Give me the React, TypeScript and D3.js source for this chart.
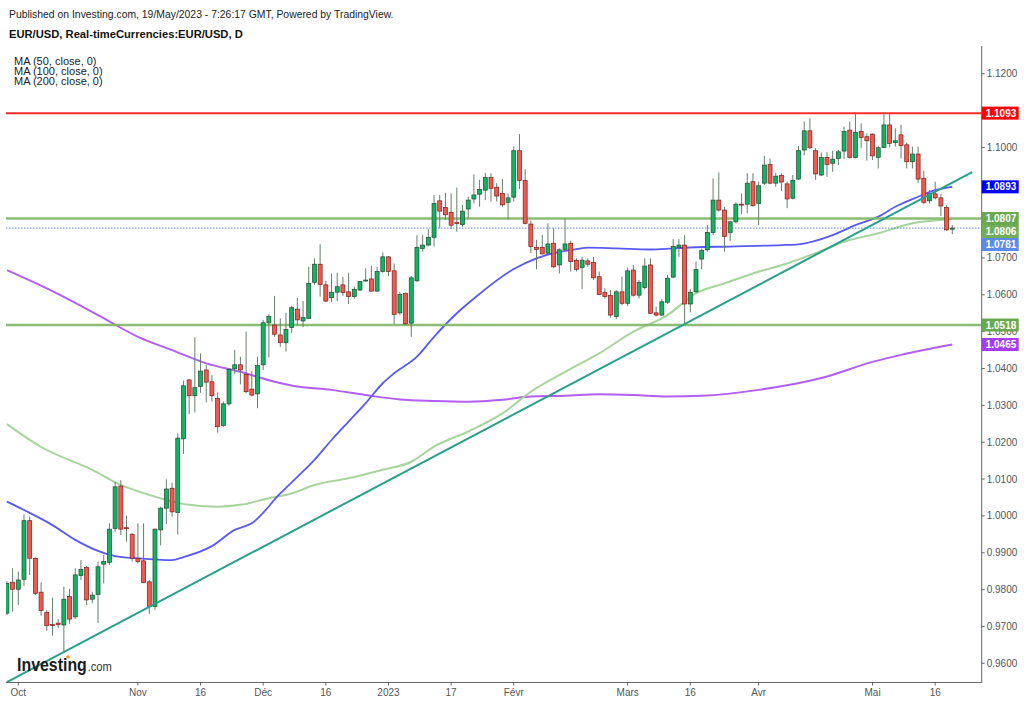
import React from "react";
import * as d3 from "d3";

// ---------- DATA ----------
const FIRST_DAY = new Date(2022, 8, 29);
const END_DAY = new Date(2023, 4, 20);

const OPEN = [
  0.9736, 0.9820, 0.9801, 0.9828, 0.9987, 0.9885, 0.9793, 0.9738, 0.9705, 0.9709,
  0.9704, 0.9781, 0.9726, 0.9838, 0.9860, 0.9774, 0.9787, 0.9869, 0.9874, 0.9966,
  1.0081, 0.9968, 0.9950, 0.9885, 0.9878, 0.9821, 0.9754, 0.9962, 1.0021, 1.0075,
  1.0009, 1.0209, 1.0369, 1.0326, 1.0351, 1.0396, 1.0364, 1.0319, 1.0245, 1.0304,
  1.0399, 1.0410, 1.0384, 1.0344, 1.0331, 1.0410, 1.0524, 1.0518, 1.0491, 1.0470,
  1.0511, 1.0561, 1.0529, 1.0536, 1.0634, 1.0683, 1.0627, 1.0592, 1.0607, 1.0627,
  1.0608, 1.0595, 1.0613, 1.0638, 1.0643, 1.0610, 1.0663, 1.0703, 1.0665, 1.0551,
  1.0604, 1.0523, 1.0638, 1.0726, 1.0735, 1.0756, 1.0855, 1.0837, 1.0823, 1.0796,
  1.0791, 1.0833, 1.0860, 1.0873, 1.0884, 1.0918, 1.0892, 1.0875, 1.0851, 1.0865,
  1.0991, 1.0910, 1.0792, 1.0729, 1.0729, 1.0713, 1.0740, 1.0681, 1.0723, 1.0740,
  1.0693, 1.0674, 1.0692, 1.0688, 1.0649, 1.0606, 1.0598, 1.0541, 1.0608, 1.0577,
  1.0667, 1.0599, 1.0620, 1.0681, 1.0551, 1.0545, 1.0580, 1.0648, 1.0729, 1.0735,
  1.0575, 1.0608, 1.0697, 1.0722, 1.0769, 1.0857, 1.0830, 1.0769, 1.0798, 1.0846,
  1.0846, 1.0907, 1.0848, 1.0903, 1.0954, 1.0903, 1.0924, 1.0901, 1.0862, 1.0914,
  1.0993, 1.1045, 1.0991, 1.0925, 1.0973, 1.0957, 1.0970, 1.0990, 1.1047, 1.0973,
  1.1043, 1.1029, 1.1036, 1.0973, 1.1000, 1.1061, 1.1013, 1.1034, 1.1007, 1.0961,
  1.0982, 1.0916, 1.0855, 1.0874, 1.0863, 1.0837, 1.0778,
];

const HIGH = [
  0.9823, 0.9858, 0.9849, 1.0004, 0.9998, 0.9887, 0.9820, 0.9745, 0.9778, 0.9720,
  0.9808, 0.9802, 0.9858, 0.9880, 0.9864, 0.9794, 0.9876, 0.9894, 0.9980, 1.0093,
  1.0097, 1.0001, 0.9954, 0.9980, 0.9980, 0.9826, 0.9966, 1.0025, 1.0099, 1.0090,
  1.0224, 1.0367, 1.0371, 1.0485, 1.0441, 1.0410, 1.0382, 1.0335, 1.0310, 1.0401,
  1.0450, 1.0432, 1.0500, 1.0393, 1.0432, 1.0532, 1.0548, 1.0597, 1.0536, 1.0551,
  1.0570, 1.0592, 1.0583, 1.0676, 1.0699, 1.0737, 1.0638, 1.0658, 1.0660, 1.0649,
  1.0660, 1.0622, 1.0637, 1.0672, 1.0679, 1.0676, 1.0715, 1.0705, 1.0685, 1.0608,
  1.0606, 1.0651, 1.0762, 1.0762, 1.0778, 1.0871, 1.0871, 1.0877, 1.0875, 1.0891,
  1.0844, 1.0866, 1.0927, 1.0912, 1.0931, 1.0930, 1.0903, 1.0914, 1.0875, 1.1002,
  1.1036, 1.0941, 1.0801, 1.0749, 1.0762, 1.0794, 1.0780, 1.0726, 1.0808, 1.0747,
  1.0699, 1.0703, 1.0699, 1.0703, 1.0663, 1.0618, 1.0613, 1.0613, 1.0649, 1.0674,
  1.0681, 1.0640, 1.0699, 1.0699, 1.0568, 1.0588, 1.0654, 1.0751, 1.0751, 1.0762,
  1.0616, 1.0690, 1.0726, 1.0789, 1.0916, 1.0932, 1.0839, 1.0801, 1.0851, 1.0875,
  1.0930, 1.0930, 1.0907, 1.0977, 1.0970, 1.0930, 1.0930, 1.0907, 1.0925, 1.1004,
  1.1070, 1.1079, 1.0998, 1.0986, 1.0987, 1.0991, 1.0993, 1.1056, 1.1070, 1.1095,
  1.1065, 1.1038, 1.1038, 1.1004, 1.1095, 1.1093, 1.1052, 1.1061, 1.1013, 1.1002,
  1.1002, 1.0937, 1.0884, 1.0907, 1.0874, 1.0844, 1.0789,
];

const LOW = [
  0.9731, 0.9740, 0.9758, 0.9810, 0.9840, 0.9785, 0.9729, 0.9688, 0.9675, 0.9696,
  0.9632, 0.9707, 0.9720, 0.9826, 0.9758, 0.9763, 0.9709, 0.9817, 0.9867, 0.9957,
  0.9948, 0.9930, 0.9876, 0.9871, 0.9817, 0.9734, 0.9745, 0.9920, 0.9978, 0.9998,
  0.9950, 1.0168, 1.0276, 1.0281, 1.0334, 1.0308, 1.0310, 1.0226, 1.0242, 1.0299,
  1.0384, 1.0357, 1.0333, 1.0324, 1.0292, 1.0396, 1.0430, 1.0486, 1.0459, 1.0446,
  1.0496, 1.0518, 1.0512, 1.0534, 1.0627, 1.0595, 1.0580, 1.0580, 1.0583, 1.0597,
  1.0575, 1.0590, 1.0610, 1.0636, 1.0608, 1.0608, 1.0660, 1.0651, 1.0520, 1.0545,
  1.0518, 1.0486, 1.0635, 1.0717, 1.0731, 1.0731, 1.0780, 1.0803, 1.0778, 1.0771,
  1.0785, 1.0808, 1.0848, 1.0839, 1.0857, 1.0853, 1.0853, 1.0839, 1.0805, 1.0853,
  1.0887, 1.0791, 1.0713, 1.0669, 1.0710, 1.0708, 1.0672, 1.0658, 1.0719, 1.0663,
  1.0663, 1.0616, 1.0676, 1.0640, 1.0599, 1.0590, 1.0538, 1.0534, 1.0572, 1.0570,
  1.0595, 1.0590, 1.0615, 1.0548, 1.0541, 1.0543, 1.0575, 1.0645, 1.0703, 1.0520,
  1.0553, 1.0606, 1.0669, 1.0717, 1.0762, 1.0826, 1.0717, 1.0746, 1.0794, 1.0819,
  1.0821, 1.0839, 1.0789, 1.0898, 1.0900, 1.0893, 1.0882, 1.0835, 1.0859, 1.0912,
  1.0979, 1.0996, 1.0912, 1.0922, 1.0920, 1.0934, 1.0952, 1.0968, 1.0970, 1.0970,
  1.0998, 1.0964, 1.0966, 1.0943, 1.0998, 1.1000, 1.1002, 1.0970, 1.0943, 1.0943,
  1.0903, 1.0846, 1.0848, 1.0859, 1.0814, 1.0774, 1.0765,
];

const CLOSE = [
  0.9817, 0.9801, 0.9826, 0.9987, 0.9885, 0.9790, 0.9743, 0.9702, 0.9703, 0.9705,
  0.9774, 0.9720, 0.9840, 0.9855, 0.9772, 0.9785, 0.9862, 0.9876, 0.9964, 1.0079,
  0.9964, 0.9965, 0.9885, 0.9876, 0.9819, 0.9754, 0.9964, 1.0021, 1.0073, 1.0011,
  1.0211, 1.0353, 1.0326, 1.0348, 1.0393, 1.0363, 1.0326, 1.0242, 1.0304, 1.0398,
  1.0410, 1.0396, 1.0337, 1.0328, 1.0408, 1.0524, 1.0541, 1.0493, 1.0470, 1.0506,
  1.0565, 1.0532, 1.0538, 1.0631, 1.0683, 1.0628, 1.0583, 1.0607, 1.0622, 1.0606,
  1.0595, 1.0615, 1.0636, 1.0640, 1.0610, 1.0663, 1.0703, 1.0663, 1.0547, 1.0601,
  1.0521, 1.0646, 1.0729, 1.0735, 1.0756, 1.0848, 1.0827, 1.0817, 1.0789, 1.0794,
  1.0827, 1.0857, 1.0871, 1.0886, 1.0918, 1.0889, 1.0868, 1.0844, 1.0863, 1.0991,
  1.0910, 1.0794, 1.0731, 1.0723, 1.0711, 1.0738, 1.0676, 1.0722, 1.0738, 1.0690,
  1.0669, 1.0694, 1.0683, 1.0646, 1.0601, 1.0595, 1.0545, 1.0608, 1.0577, 1.0665,
  1.0599, 1.0633, 1.0678, 1.0550, 1.0545, 1.0581, 1.0645, 1.0731, 1.0735, 1.0575,
  1.0607, 1.0669, 1.0720, 1.0769, 1.0857, 1.0830, 1.0758, 1.0798, 1.0846, 1.0844,
  1.0903, 1.0842, 1.0896, 1.0952, 1.0903, 1.0922, 1.0906, 1.0860, 1.0910, 1.0991,
  1.1045, 1.0999, 1.0928, 1.0973, 1.0954, 1.0968, 1.0988, 1.1043, 1.0973, 1.1041,
  1.1027, 1.1018, 1.0977, 1.0999, 1.1061, 1.1011, 1.1018, 1.1005, 1.0961, 1.0982,
  1.0914, 1.0851, 1.0874, 1.0863, 1.0841, 1.0776, 1.0781,
];

// moving averages: [bar number, value]
const MA50: [number, number][] = [
  [0, 1.0039], [3, 1.0016], [8, 0.9975], [12, 0.9935], [16, 0.9905], [19, 0.9891],
  [23, 0.9885], [29, 0.988], [31, 0.9888], [36, 0.9918], [40, 0.9962], [43, 0.998],
  [48, 1.0061], [51, 1.0106], [54, 1.0152], [57, 1.0206], [60, 1.0256], [63, 1.0306],
  [66, 1.036], [68, 1.0387], [72, 1.0432], [75, 1.0486], [79, 1.055], [82, 1.059],
  [89, 1.067], [93, 1.0699], [96, 1.0713], [100, 1.0724], [102, 1.0728],
  [107, 1.0726], [113, 1.0723], [117, 1.0726], [121, 1.0729], [127, 1.0731],
  [136, 1.0735], [139, 1.0737], [145, 1.0762], [149, 1.0789], [153, 1.0812],
  [156, 1.0839], [160, 1.0866], [163, 1.0884], [166, 1.0893],
];
const MA100: [number, number][] = [
  [0, 1.0249], [6, 1.0187], [15, 1.0125], [20, 1.0084], [25, 1.0057], [32, 1.003],
  [37, 1.0025], [41, 1.003], [46, 1.0048], [50, 1.0061], [54, 1.0084], [60, 1.0102],
  [66, 1.0125], [71, 1.0147], [75, 1.0188], [81, 1.0229], [87, 1.0278], [92, 1.0337],
  [98, 1.0391], [104, 1.0441], [110, 1.05], [116, 1.0545], [121, 1.0604], [126, 1.0631],
  [131, 1.0658], [137, 1.0685], [142, 1.0713], [147, 1.0744], [153, 1.0767],
  [159, 1.0794], [166, 1.0806],
];
const MA200: [number, number][] = [
  [0, 1.0667], [8, 1.061], [16, 1.0545], [23, 1.0486], [29, 1.045], [35, 1.0414],
  [41, 1.0391], [47, 1.0364], [51, 1.0351], [57, 1.0342], [63, 1.0328], [69, 1.0316],
  [75, 1.0312], [81, 1.031], [87, 1.0315], [92, 1.0324], [98, 1.0326], [104, 1.033],
  [110, 1.0328], [116, 1.0324], [122, 1.0326], [132, 1.0342], [143, 1.0374],
  [152, 1.0418], [157, 1.0437], [166, 1.0465],
];
const TREND: [number, number][] = [[0, 0.9549], [169.5, 1.0933]];

const RESIST = 1.1093;
const LEVEL_HIGH = 1.0807;
const LEVEL_LOW = 1.0518;
const LAST_PRICE = 1.0781;

const Y_TICKS = [0.96, 0.97, 0.98, 0.99, 1.0, 1.01, 1.02, 1.03, 1.04, 1.05, 1.06, 1.07, 1.08, 1.09, 1.1, 1.11, 1.12];
const X_TICK_DATES = ["2022-10-03", "2022-11-01", "2022-11-16", "2022-12-01", "2022-12-16", "2023-01-02", "2023-01-17", "2023-02-01", "2023-03-01", "2023-03-16", "2023-04-03", "2023-05-01", "2023-05-16"];
const X_TICK_LABELS = ["Oct", "Nov", "16", "Déc", "16", "2023", "17", "Févr", "Mars", "16", "Avr", "Mai", "16"];

const LEGEND = ["MA (50, close, 0)", "MA (100, close, 0)", "MA (200, close, 0)"];

// ---------- STYLE ----------
const W = 1024, H = 703;
const PL = 6, PR = 981.7, PT = 46, PB = 682.5;
const FONT = "'Liberation Sans', Arial, Helvetica, sans-serif";
const UP = "#12b262", UP_LINE = "#1d4d31";
const DN = "#f0594f", DN_LINE = "#7a1f1a";
const WICK = "#667f6c";
const C_MA50 = "#5959f6", C_MA100 = "#a7d49c", C_MA200 = "#b35ef7";
const C_TREND = "#28a08a", C_RED = "#ff2a2a", C_GREEN = "#7fb763";

export default function App() {
  const days = d3.timeDay.range(FIRST_DAY, END_DAY).filter((d) => d.getDay() !== 0 && d.getDay() !== 6);
  const fmt = d3.timeFormat("%Y-%m-%d");
  const dayIndex = new Map(days.map((d, i) => [fmt(d), i]));

  const x = d3.scaleLinear().domain([2, 152]).range([18.3, 872.55]);
  const y = d3.scaleLinear().domain([0.96, 1.12]).range([663.3, 73.7]);

  const bodyW = 4;
  const candles = OPEN.map((o, i) => ({ i, o, h: HIGH[i], l: LOW[i], c: CLOSE[i] }));

  const line = d3.line<[number, number]>().x((d) => x(d[0])).y((d) => y(d[1])).curve(d3.curveMonotoneX);
  const straight = d3.line<[number, number]>().x((d) => x(d[0])).y((d) => y(d[1]));

  // right-axis labels with collision stacking
  const labels = [
    { v: RESIST, bg: "#ff0000" },
    { v: MA50[MA50.length - 1][1], bg: "#0000ff" },
    { v: LEVEL_HIGH, bg: "#6aa84f" },
    { v: MA100[MA100.length - 1][1], bg: "#72ad58" },
    { v: LAST_PRICE, bg: "#5b8be6" },
    { v: LEVEL_LOW, bg: "#6aa84f" },
    { v: MA200[MA200.length - 1][1], bg: "#a43cf3" },
  ].sort((a, b) => b.v - a.v);
  const LH = 13;
  let prev = -Infinity;
  const placed = labels.map((lb) => {
    let cy = y(lb.v);
    if (cy < prev + LH) cy = prev + LH;
    prev = cy;
    return { ...lb, cy };
  });
  // tick labels fully covered by a price label are not drawn
  const visibleTicks = Y_TICKS.filter((t) => !placed.some((p) => Math.abs(p.cy - y(t)) < LH / 2));

  return (
    <svg width={W} height={H} viewBox={`0 0 ${W} ${H}`} style={{ position: "absolute", left: 0, top: 0, background: "#fff" }} fontFamily={FONT}>
      <defs>
        <clipPath id="plot">
          <rect x={PL} y={PT} width={PR - PL} height={PB - PT} />
        </clipPath>
      </defs>
      <rect x={0} y={0} width={W} height={H} fill="#fff" />

      <g clipPath="url(#plot)">
        {/* moving averages */}
        <path d={line(MA200) || ""} fill="none" stroke={C_MA200} strokeWidth={2} />
        <path d={line(MA100) || ""} fill="none" stroke={C_MA100} strokeWidth={2} />
        <path d={line(MA50) || ""} fill="none" stroke={C_MA50} strokeWidth={1.8} />
        {/* horizontal levels */}
        <line x1={PL} x2={PR} y1={y(RESIST)} y2={y(RESIST)} stroke={C_RED} strokeWidth={2} />
        <line x1={PL} x2={PR} y1={y(LEVEL_HIGH)} y2={y(LEVEL_HIGH)} stroke={C_GREEN} strokeWidth={2.5} opacity={0.9} />
        <line x1={PL} x2={PR} y1={y(LEVEL_LOW)} y2={y(LEVEL_LOW)} stroke={C_GREEN} strokeWidth={2.5} opacity={0.9} />
        {/* last price dotted */}
        <line x1={PL} x2={PR} y1={y(LAST_PRICE)} y2={y(LAST_PRICE)} stroke="#5b8be6" strokeWidth={1} strokeDasharray="1.5,1.5" />
        {/* candles */}
        {candles.map((d) => {
          const up = d.c >= d.o;
          const cx = x(d.i);
          const top = y(Math.max(d.o, d.c));
          const bot = y(Math.min(d.o, d.c));
          return (
            <g key={d.i}>
              <line x1={cx} x2={cx} y1={y(Math.max(d.h, d.o, d.c))} y2={y(Math.min(d.l, d.o, d.c))} stroke={WICK} strokeWidth={1} />
              <rect x={cx - bodyW / 2} y={top} width={bodyW} height={Math.max(1, bot - top)} fill={up ? UP : DN} stroke={up ? UP_LINE : DN_LINE} strokeWidth={0.7} />
            </g>
          );
        })}
        {/* trend line */}
        <path d={straight(TREND) || ""} fill="none" stroke={C_TREND} strokeWidth={2} />
      </g>

      {/* axes */}
      <line x1={PR} x2={PR} y1={PT} y2={PB} stroke="#666" strokeWidth={1} />
      <line x1={PL} x2={PR} y1={PB} y2={PB} stroke="#666" strokeWidth={1} />
      {Y_TICKS.map((t) => (
        <line key={"tk" + t} x1={PR} x2={PR + 3} y1={y(t)} y2={y(t)} stroke="#666" />
      ))}
      {visibleTicks.map((t) => (
        <text key={"tl" + t} x={PR + 5} y={y(t)} dy="0.35em" fontSize={10} fill="#555">{t.toFixed(4)}</text>
      ))}
      {X_TICK_DATES.map((ds, k) => {
        const idx = dayIndex.get(ds) ?? 0;
        const tx = x(idx);
        return (
          <g key={ds}>
            <line x1={tx} x2={tx} y1={PB} y2={PB + 3} stroke="#666" />
            <text x={tx} y={696} textAnchor="middle" fontSize={10} fill="#555">{X_TICK_LABELS[k]}</text>
          </g>
        );
      })}

      {/* price labels */}
      {placed.map((lb) => (
        <g key={lb.v + lb.bg}>
          <rect x={PR} y={lb.cy - LH / 2} width={37} height={LH} fill={lb.bg} />
          <text x={PR + 4} y={lb.cy} dy="0.35em" fontSize={10} fontWeight="bold" fill="#fff">{lb.v.toFixed(4)}</text>
        </g>
      ))}

      {/* header */}
      <text x={9} y={18} fontSize={10.4} fill="#222">Published on Investing.com, 19/May/2023 - 7:26:17 GMT, Powered by TradingView.</text>
      <text x={9} y={37.5} fontSize={11.2} fontWeight="bold" fill="#111">EUR/USD, Real-timeCurrencies:EUR/USD, D</text>
      {LEGEND.map((t, k) => (
        <text key={t} x={14} y={64.5 + k * 10.4} fontSize={11} fill="#222">{t}</text>
      ))}

      {/* logo */}
      <text transform="translate(17,671) scale(0.86,1)" fill="#1b1b1b">
        <tspan fontSize={18.5} fontWeight="bold">Investing</tspan>
        <tspan fontSize={13} fill="#333" dx={1}>.com</tspan>
      </text>
      <circle cx={68} cy={657} r={1.8} fill="#f5a01a" />
    </svg>
  );
}
